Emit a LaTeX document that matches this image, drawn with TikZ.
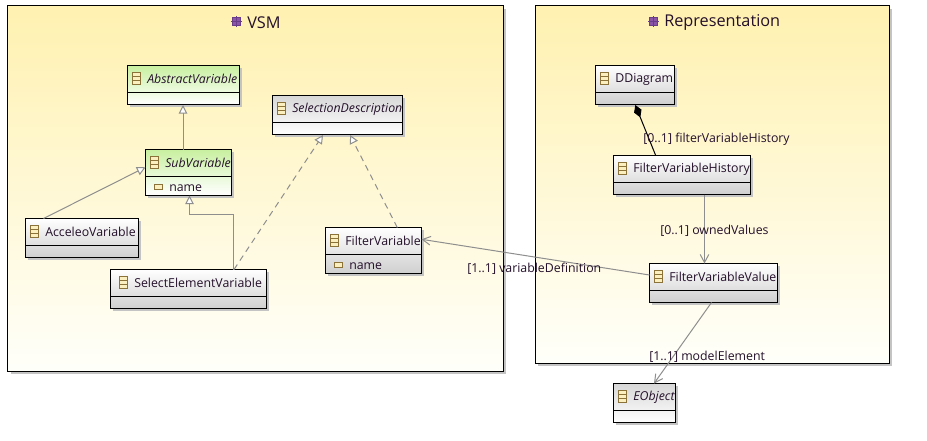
\documentclass[tikz,border=0pt]{standalone}
\usepackage{fontspec}
\setmainfont{Open Sans}
\usetikzlibrary{arrows.meta,calc}
\definecolor{pkgtop}{HTML}{FFF1B0}
\definecolor{pkgbot}{HTML}{FFFFFA}
\definecolor{greentop}{HTML}{C8F0A0}
\definecolor{graytop}{HTML}{D8D8D8}
\definecolor{graybot}{HTML}{CFCFCF}
\definecolor{shadowc}{HTML}{C4C4C4}
\definecolor{linkc}{HTML}{8E8E8E}
\definecolor{inkc}{HTML}{24102A}
\definecolor{iconc}{HTML}{8A7238}
\definecolor{iconf}{HTML}{FBEFC0}
\definecolor{pkgicon}{HTML}{8A55A8}
\definecolor{pkgedge}{HTML}{6A3D88}
\tikzset{
  x=0.75pt,y=-0.75pt,
  boxbase/.style={draw=black,line width=0.75pt,inner sep=0pt,outer sep=0pt,anchor=north west},
  pkgbox/.style={boxbase,top color=pkgtop,bottom color=pkgbot},
  greenbox/.style={boxbase,top color=greentop,bottom color=white},
  abstractbox/.style={boxbase,top color=graytop,bottom color=white},
  graybox/.style={boxbase,top color=white,bottom color=graybot},
  boxtext/.style={inner sep=0pt,anchor=west,text=inkc,font=\fontsize{9.25pt}{11pt}\selectfont},
  linktext/.style={inner sep=0pt,anchor=west,text=inkc,font=\fontsize{9.25pt}{11pt}\selectfont},
  titletext/.style={inner sep=0pt,anchor=west,text=inkc,font=\fontsize{12.2pt}{15pt}\selectfont},
  link/.style={draw=linkc,line width=0.75pt},
  inherit/.style={link,-{Triangle[open,fill=white,length=6.5pt,width=6.5pt]}},
  realize/.style={inherit,dash pattern=on 4.5pt off 3.5pt},
  refer/.style={link,-{Straight Barb[length=6pt,width=6.5pt]}},
  compose/.style={draw=black,line width=0.75pt,-{Diamond[fill=black,length=10pt,width=6pt]}},
  iconline/.style={draw=iconc,line width=0.75pt},
}
% #1 name, #2 x0, #3 y0, #4 x1, #5 y1, #6 separator y, #7 box style, #8 text x, #9 text
\newcommand{\umlclass}[9]{%
  \pgfmathsetlengthmacro{\bw}{(#4-#2)*0.75pt}%
  \pgfmathsetlengthmacro{\bh}{(#5-#3)*0.75pt}%
  \fill[shadowc] (#2+2.5,#3+2.5) rectangle (#4+2.5,#5+2.5);
  \node[#7,minimum width=\bw,minimum height=\bh] (#1) at (#2,#3) {};
  \draw[black,line width=0.75pt] (#2,#6) -- (#4,#6);
  \pgfmathsetmacro{\ic}{#8-15}%
  \pgfmathsetmacro{\ty}{(#3+#6)/2}%
  \fill[iconf] (\ic,\ty-6) rectangle (\ic+8,\ty+6);
  \draw[iconline] (\ic,\ty-6) rectangle (\ic+8,\ty+6) (\ic,\ty-2) -- (\ic+8,\ty-2) (\ic,\ty+2) -- (\ic+8,\ty+2);
  \node[boxtext] (#1 label) at (#8,\ty+0.6) {#9};
}
\newcommand{\attricon}[2]{%
  \fill[iconf] (#1,#2-2.5) rectangle (#1+8,#2+2.5);
  \draw[iconline] (#1,#2-2.5) rectangle (#1+8,#2+2.5);
}
\newcommand{\pkgglyph}[2]{%
  \fill[pkgicon] (#1,#2) rectangle (#1+8,#2+8);
  \draw[pkgedge,line width=0.4pt] (#1,#2) rectangle (#1+8,#2+8)
     (#1-1.5,#2+4) -- (#1+9.5,#2+4) (#1+4,#2-1.5) -- (#1+4,#2+9.5);
}
\begin{document}
\begin{tikzpicture}
\useasboundingbox (0,0) rectangle (927,440);
\fill[white] (0,0) rectangle (927,440);
% packages
\fill[shadowc] (10.5,8.5) rectangle (506,374);
\pgfmathsetlengthmacro{\pw}{495.5*0.75pt}\pgfmathsetlengthmacro{\ph}{365.5*0.75pt}
\node[pkgbox,minimum width=\pw,minimum height=\ph] (vsm) at (7.5,5.5) {};
\fill[shadowc] (538,8.5) rectangle (892,366);
\pgfmathsetlengthmacro{\pw}{354*0.75pt}\pgfmathsetlengthmacro{\ph}{357.5*0.75pt}
\node[pkgbox,minimum width=\pw,minimum height=\ph] (rep) at (535,5.5) {};
\pkgglyph{232.5}{17.5}
\node[titletext] (vsm title) at (247,22.5) {VSM};
\pkgglyph{649.5}{17.5}
\node[titletext] (rep title) at (664,22.5) {Representation};
% classes
\umlclass{abs}{127.5}{65.5}{239.5}{104.5}{92}{greenbox}{147}{\itshape AbstractVariable}
\umlclass{sel}{272.5}{95.5}{402.5}{134.5}{122}{abstractbox}{292}{\itshape SelectionDescription}
\umlclass{sub}{145.5}{149.5}{231.5}{195}{176}{greenbox}{165}{\itshape SubVariable}
\umlclass{acc}{25.5}{218.5}{138.5}{257.5}{245}{graybox}{45}{AcceleoVariable}
\umlclass{sev}{110.5}{269.5}{266.5}{308.5}{296}{graybox}{134}{SelectElementVariable}
\umlclass{fil}{325.5}{227.5}{421.5}{273.5}{254}{graybox}{345}{FilterVariable}
\umlclass{dia}{595.5}{65.5}{674.5}{104.5}{92}{graybox}{615}{DDiagram}
\umlclass{his}{613.5}{155.5}{750.5}{194.5}{182}{graybox}{633}{FilterVariableHistory}
\umlclass{val}{649.5}{263.5}{777.5}{302.5}{290}{graybox}{669}{FilterVariableValue}
\umlclass{eob}{613.5}{383.5}{675.5}{422.5}{410}{abstractbox}{633}{\itshape EObject}
% attributes
\attricon{154.5}{187}
\node[boxtext] (sub attr) at (169,188.5) {name};
\attricon{334.5}{264.5}
\node[boxtext] (fil attr) at (349,266) {name};
% connectors
\draw[inherit] ($(sub.north)+(-5.5,0)$) -- ($(abs.south)+(-0.5,0.5)$);
\draw[inherit] ($(acc.north west)+(18,0)$) -- ($(sub.west)+(0,-5)$);
\draw[inherit] ($(sev.north)+(45,0)$) |- ($(sub.south)+(1,19.5)$) -- ($(sub.south)+(1,0.5)$);
\draw[realize] ($(sev.north)+(45.5,0)$) -- ($(sel.south)+(-14.5,0.5)$);
\draw[realize] ($(fil.north)+(23.8,0)$) -- ($(sel.south)+(12.5,0.5)$);
\draw[refer] (val.west |- 0,275) -- ($(fil.north east)+(0,11.8)$);
\draw[refer] ($(his.south)+(22.5,0)$) -- ($(val.north)+(-9,0)$);
\draw[compose] ($(his.north west)+(42.2,0)$) -- ($(dia.south)+(0.3,0.5)$);
\draw[refer] ($(val.south)+(-2,0)$) -- ($(eob.north)+(9.5,0)$);
% connector labels
\node[linktext] (l1) at (643,139.6) {[0..1] filterVariableHistory};
\node[linktext] (l2) at (660,231) {[0..1] ownedValues};
\node[linktext] (l3) at (467,269) {[1..1] variableDefinition};
\node[linktext] (l4) at (649,357) {[1..1] modelElement};
\end{tikzpicture}
\end{document}
